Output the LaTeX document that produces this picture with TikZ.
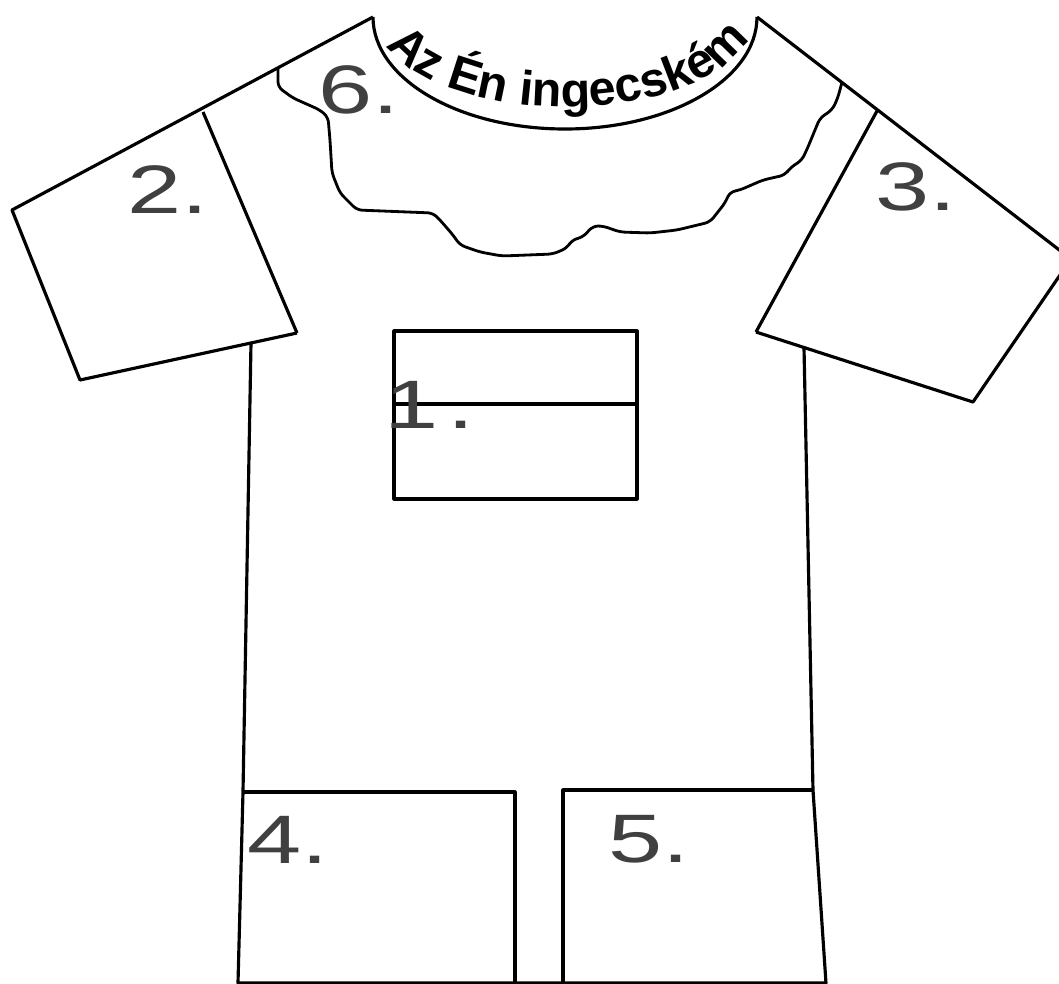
\documentclass[tikz,border=0pt]{standalone}
\usepackage{fontspec}
\setmainfont{Liberation Sans}
\newfontfamily\widefont[FakeStretch=1.42]{Liberation Sans}
\newfontfamily\titlefont{Liberation Sans}
\usetikzlibrary{decorations.text}
\definecolor{numgray}{gray}{0.25}
\tikzset{
  outl/.style={draw,line width=0.9pt,line join=round},
  jag/.style={draw,line width=0.8pt,line join=round,rounded corners=1.5pt},
  numlbl/.style={anchor=base west,inner sep=0pt,text=numgray,font=\widefont\fontsize{19.5}{22}\selectfont}
}

\begin{document}
\begin{tikzpicture}[x=0.01cm,y=-0.01cm]
\useasboundingbox (0,0) rectangle (1059,984);
\clip (0,0) rectangle (1059,984);
% sleeves
\draw[outl] (373,17) -- (12,210) -- (80,380) -- (297,333);
\draw[outl] (203,112) -- (297,333);
\draw[outl] (757,17) -- (1071,259) -- (973,402) -- (756,332);
\draw[outl] (877,111) -- (756,332);
% body
\draw[outl] (251,343) -- (243,792) -- (238,983) -- (826,983) -- (813,790) -- (804,347);
% neck and title
\draw[outl] (373,17) arc[start angle=180,end angle=0,x radius=192,y radius=112];
\path[decorate,decoration={text along path,text align=fit to path,
  text={|\titlefont\bfseries\fontsize{13.8}{16}\selectfont|Az Én ingecském}}]
  (386.6,44.9) arc[start angle=162,end angle=16,x radius=188,y radius=90];
% collar piece
\draw[jag] (278,68) -- (278,87) -- (293,98) -- (320,110) -- (328,117) -- (330,140)
  -- (332,173) -- (340,193) -- (357,210) -- (433,213) -- (440,220) -- (453,235)
  -- (460,245) -- (480,252) -- (502,256) -- (553,254) -- (567,248) -- (572,240)
  -- (583,237) -- (593,226) -- (603,226) -- (620,232) -- (650,233) -- (677,230)
  -- (710,222) -- (725,203) -- (730,192) -- (740,190) -- (763,180) -- (785,175)
  -- (790,168) -- (802,160) -- (808,147) -- (815,130) -- (820,118) -- (832,110)
  -- (837,100) -- (840,90) -- (842,82);
% boxes
\draw[outl] (394,331) rectangle (637,499);
\draw[outl] (394,404) -- (637,404);
\draw[outl] (243,792) -- (515,792) -- (515,983);
\draw[outl] (563,983) -- (563,790) -- (813,790);
% numbers
\node[numlbl] (n1) at (384,428) {1\kern0.12em.};
\node[numlbl] (n2) at (127,213) {2.};
\node[numlbl] (n3) at (875,210) {3.};
\node[numlbl] (n4) at (247,863) {4.};
\node[numlbl] (n5) at (608,862) {5.};
\node[numlbl] (n6) at (318,113) {6.};
\end{tikzpicture}
\end{document}
